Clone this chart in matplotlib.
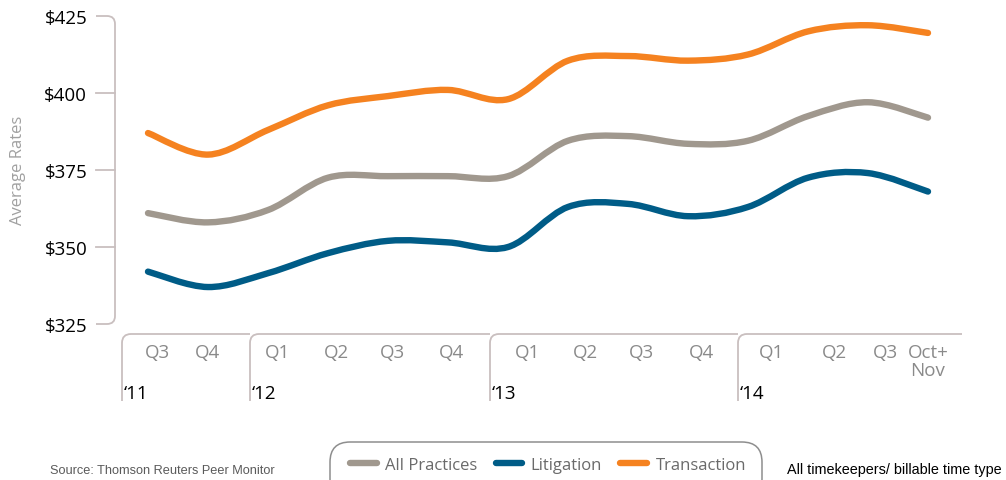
import matplotlib
matplotlib.use('Agg')
import matplotlib.pyplot as plt
from matplotlib.path import Path
from matplotlib.patches import PathPatch, FancyBboxPatch
from matplotlib.lines import Line2D
from matplotlib import transforms

# data
quarters = ["Q3", "Q4", "Q1", "Q2", "Q3", "Q4", "Q1", "Q2", "Q3", "Q4", "Q1", "Q2", "Q3", "Oct+\nNov"]
years = ["\u201811", "\u201812", "\u201813", "\u201814"]
all_practices = [361, 358, 362, 372.5, 373, 373, 373, 384.5, 386, 383.5, 384.5, 392.5, 397, 392]
litigation = [342, 337, 341.5, 348, 352, 351.5, 350, 363, 364, 360, 363, 372.5, 374, 368]
transaction = [387, 380, 388, 396, 399, 401, 398, 410.5, 412, 410.5, 412.5, 420, 422, 419.5]
yticks = [325, 350, 375, 400, 425]

W, H = 1006, 481
GREY = "#A0988E"
BLUE = "#005C87"
ORANGE = "#F58220"
RULE = "#C9BFBF"
plt.rcParams['font.family'] = ['Open Sans', 'DejaVu Sans']

fig = plt.figure(figsize=(W / 100, H / 100), dpi=100)

def fx(px):
	return px / W

def fy(py):
	return 1 - py / H

# axes spans pixel x 115..960, y 17..325
ax = fig.add_axes([fx(115), fy(325), fx(960) - fx(115), fy(17) - fy(325)])
ax.set_xlim((115 - 148) / 60, (960 - 148) / 60)
ax.set_ylim(325, 425)
for s in ax.spines.values():
	s.set_visible(False)

def smooth_path(xs, ys):
	"""Excel style smoothed line as bezier segments"""
	pts = list(zip(xs, ys))
	verts = [pts[0]]
	codes = [Path.MOVETO]
	n = len(pts)
	for i in range(n - 1):
		p0 = pts[i - 1] if i > 0 else pts[i]
		p1 = pts[i]
		p2 = pts[i + 1]
		p3 = pts[i + 2] if i + 2 < n else pts[i + 1]
		c1 = (p1[0] + (p2[0] - p0[0]) / 6, p1[1] + (p2[1] - p0[1]) / 6)
		c2 = (p2[0] - (p3[0] - p1[0]) / 6, p2[1] - (p3[1] - p1[1]) / 6)
		verts += [c1, c2, p2]
		codes += [Path.CURVE4] * 3
	return Path(verts, codes)

xs = list(range(len(quarters)))
for series, color in [(all_practices, GREY), (litigation, BLUE), (transaction, ORANGE)]:
	ax.add_patch(PathPatch(smooth_path(xs, series), facecolor="none", edgecolor=color,
		lw=4.6, capstyle="round", joinstyle="round"))

# y axis: bracket with rounded ends
ax.set_yticks(yticks)
ax.set_yticklabels(["$%d" % v for v in yticks], fontsize=13.5, color="black")
ax.tick_params(axis="y", length=0, pad=20)
bt = transforms.blended_transform_factory(fig.transFigure, ax.transData)
r = 8 / 3.08
bracket = Path([(fx(96), 425), (fx(107), 425), (fx(115), 425), (fx(115), 425 - r),
	(fx(115), 325 + r), (fx(115), 325), (fx(107), 325), (fx(96), 325)],
	[Path.MOVETO, Path.LINETO, Path.CURVE3, Path.CURVE3, Path.LINETO, Path.CURVE3, Path.CURVE3, Path.LINETO])
fig.add_artist(PathPatch(bracket, facecolor="none", edgecolor=RULE, lw=1.3, transform=bt))
for v in yticks[1:-1]:
	fig.add_artist(Line2D([fx(96), fx(115)], [v, v], color=RULE, lw=1.3, transform=bt))

fig.text(fx(18), fy(170), "Average Rates", rotation=90, ha="center", va="center",
	fontsize=12, color="#A0A0A0")

# x labels
label_px = [157, 208, 278, 336, 392, 452, 528, 585, 641, 702, 772, 834, 885, 928]
ax.set_xticks([(p - 148) / 60 for p in label_px])
ax.set_xticklabels(quarters, fontsize=13.5, color="#8A8A8A", linespacing=0.95)
ax.tick_params(axis="x", length=0, pad=14)

# year group boxes
box_left = [122, 250, 490, 738]
box_right = box_left[1:] + [962]
for left, right, year in zip(box_left, box_right, years):
	rr = 9
	p = Path([(fx(left), fy(402)), (fx(left), fy(335 + rr)), (fx(left), fy(335)), (fx(left + rr), fy(335)),
		(fx(right), fy(335))],
		[Path.MOVETO, Path.LINETO, Path.CURVE3, Path.CURVE3, Path.LINETO])
	fig.add_artist(PathPatch(p, facecolor="none", edgecolor=RULE, lw=1.3, transform=fig.transFigure))
	fig.text(fx(left + 2), fy(394), year, ha="left", va="center", fontsize=13.5, color="black")

# legend box, open at the bottom edge
fig.add_artist(FancyBboxPatch((fx(330), fy(500)), fx(762) - fx(330), fy(443) - fy(500),
	boxstyle="round,pad=0,rounding_size=0.02", facecolor="none", edgecolor="#8E8E8E",
	lw=1.1, transform=fig.transFigure, mutation_aspect=W / H))
handles = [Line2D([], [], color=c, lw=4.6, solid_capstyle="round") for c in (GREY, BLUE, ORANGE)]
fig.legend(handles, ["All Practices", "Litigation", "Transaction"], loc="center",
	bbox_to_anchor=(fx(548), fy(466)), ncol=3, frameon=False, fontsize=12,
	handlelength=1.6, handletextpad=0.5, columnspacing=1.1, labelcolor="#6A6A6A")

fig.text(fx(50), fy(471), "Source: Thomson Reuters Peer Monitor", ha="left", va="center",
	fontsize=9.2, color="#5A5A5A", family=["Liberation Sans"])
fig.text(fx(787), fy(470), "All timekeepers/ billable time type", ha="left", va="center",
	fontsize=10.4, color="black", family=["Liberation Sans"])

plt.savefig("out.png", dpi=100)
